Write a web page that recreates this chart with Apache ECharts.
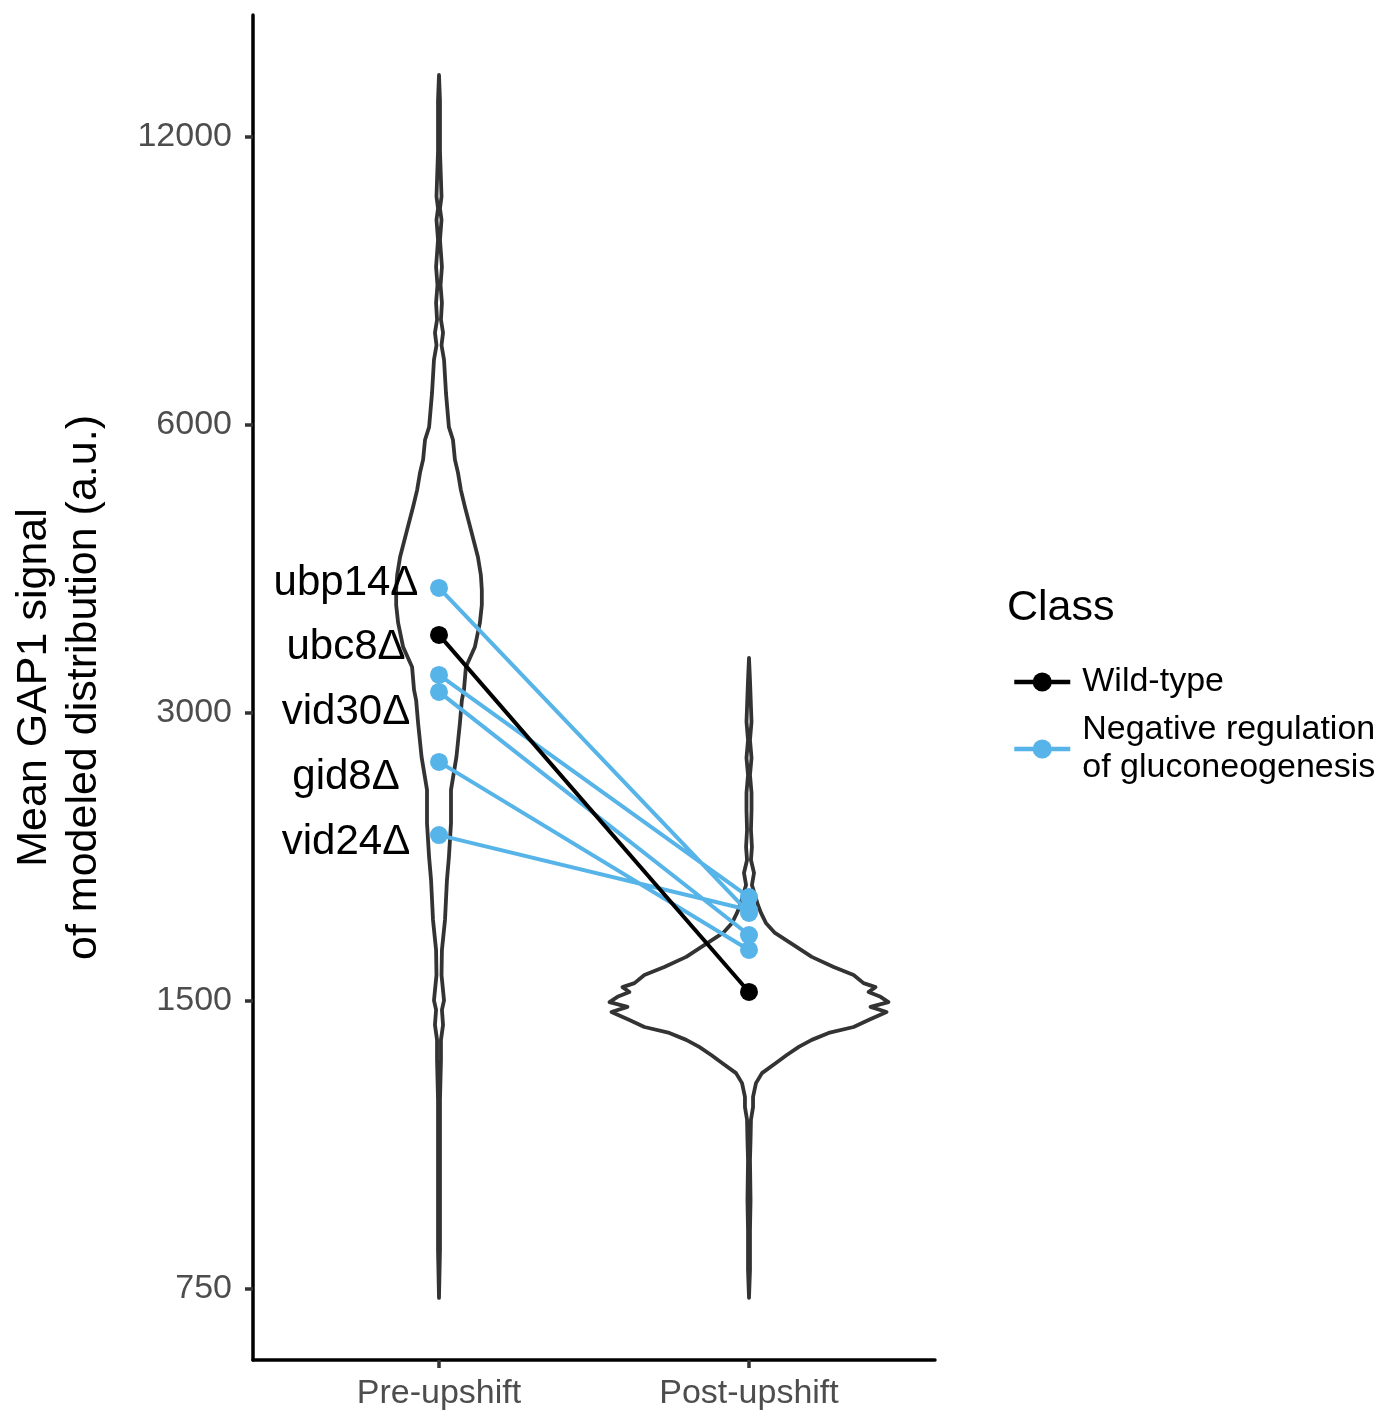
<!DOCTYPE html>
<html>
<head>
<meta charset="utf-8">
<title>GAP1 signal pre/post upshift</title>
<script src="https://cdn.jsdelivr.net/npm/echarts@6/dist/echarts.min.js"></script>
<style>
  html, body { margin: 0; padding: 0; background: #fff; }
  #chart { width: 1390px; height: 1414px; }
</style>
</head>
<body>
<div id="chart"></div>
<script>
// categories and axis ticks
const categories = ['Pre-upshift', 'Post-upshift']
const yTicks = [750, 1500, 3000, 6000, 12000]

// mutant strains (Negative regulation of gluconeogenesis)
const strains = ['ubp14Δ', 'ubc8Δ', 'vid30Δ', 'gid8Δ', 'vid24Δ']
const strainPre = [4053, 3288, 3156, 2667, 2236]
const strainPost = [1854, 1926, 1758, 1696, 1867]
// where the repelled labels ended up (a.u.)
const strainLabelAt = [4102, 3516, 3007, 2572, 2199]

// wild-type [pre, post]
const wildType = [3620, 1533]

// violin outlines: value (a.u.) and relative density (1 = widest)
const preViolinValue = [13930, 13100, 11600, 10400, 10100, 9830, 9370, 8780, 8400, 8050, 7730, 7490, 7270, 7020,
  6480, 5970, 5790, 5520, 5350, 5130, 4925, 4660, 4367, 4182, 4034, 3891, 3726, 3516, 3351, 3171, 3095, 2929,
  2699, 2493, 2302, 2121, 2007, 1823, 1696, 1597, 1502, 1468, 1416, 1366, 1301, 1182, 1048, 929, 824, 734]
const preViolinDensity = [0, 0.007, 0.007, 0.018, 0.007, 0.018, 0.007, 0.021, 0.011, 0.021, 0.014, 0.029, 0.018, 0.036,
  0.05, 0.071, 0.1, 0.114, 0.136, 0.157, 0.186, 0.229, 0.279, 0.3, 0.307, 0.307, 0.293, 0.257, 0.193, 0.179, 0.164, 0.15,
  0.125, 0.086, 0.086, 0.071, 0.057, 0.043, 0.021, 0.018, 0.036, 0.021, 0.029, 0.014, 0.014, 0.007, 0.007, 0.007, 0.007, 0]

const postViolinValue = [3425, 3248, 2936, 2811, 2692, 2584, 2475, 2375, 2264, 2173, 2106, 2041, 1983, 1936, 1890,
  1854, 1810, 1767, 1716, 1668, 1628, 1597, 1566, 1551, 1533, 1515, 1496, 1479, 1461, 1433, 1409, 1389, 1366,
  1343, 1317, 1292, 1261, 1231, 1191, 1162, 1127, 1074, 1023, 929, 864, 785, 734]
const postViolinDensity = [0, 0.007, 0.018, 0.007, 0.018, 0.007, 0.018, 0.018, 0.014, 0.021, 0.014, 0.036, 0.021, 0.043, 0.064,
  0.086, 0.121, 0.186, 0.321, 0.45, 0.607, 0.75, 0.821, 0.907, 0.857, 0.943, 1.0, 0.871, 0.986, 0.857, 0.75, 0.571, 0.45,
  0.357, 0.271, 0.193, 0.093, 0.05, 0.029, 0.029, 0.014, 0.011, 0.007, 0.011, 0.007, 0.007, 0]

const BLUE = '#56B4E9'
const FONT = '"Liberation Sans", Arial, Helvetica, sans-serif'
const violinHalfWidth = 0.45 // ggplot width 0.9
const labelX = 0.7

const violins = [
  { center: 1, values: preViolinValue, density: preViolinDensity },
  { center: 2, values: postViolinValue, density: postViolinDensity }
]

function renderViolin(params, api) {
  const v = violins[params.dataIndex]
  const left = []
  const right = []
  v.values.forEach((val, i) => {
    left.push(api.coord([v.center - v.density[i] * violinHalfWidth, Math.log2(val)]))
    right.push(api.coord([v.center + v.density[i] * violinHalfWidth, Math.log2(val)]))
  })
  return {
    type: 'polygon',
    shape: { points: left.concat(right.reverse()) },
    style: { fill: '#fff', stroke: '#333333', lineWidth: 3.8, lineJoin: 'round', lineCap: 'round' }
  }
}

// strain name labels, placed through the axes
function renderLabel(params, api) {
  const p = api.coord([api.value(0), api.value(1)])
  return {
    type: 'text',
    x: p[0],
    y: p[1],
    style: {
      text: strains[params.dataIndex],
      fill: '#000',
      font: '42px ' + FONT,
      align: 'center',
      verticalAlign: 'middle'
    }
  }
}

// mutant segments, broken with '-' between strains
const mutantData = []
strains.forEach((s, i) => {
  if (i > 0) mutantData.push('-')
  mutantData.push([1, Math.log2(strainPre[i])], [2, Math.log2(strainPost[i])])
})

const chart = echarts.init(document.getElementById('chart'))

const option = {
  backgroundColor: '#fff',
  animation: false,
  textStyle: { fontFamily: FONT },
  grid: { left: 253, right: 455, top: 15, bottom: 54, containLabel: false },
  xAxis: {
    type: 'value',
    min: 0.4,
    max: 2.6,
    splitLine: { show: false },
    axisLine: { lineStyle: { color: '#000', width: 3.5 } },
    axisTick: { customValues: [1, 2], length: 8, lineStyle: { color: '#333', width: 3.5 } },
    axisLabel: {
      customValues: [1, 2],
      formatter: v => categories[Math.round(v) - 1],
      color: '#4D4D4D',
      fontSize: 34,
      margin: 17,
      fontFamily: FONT
    }
  },
  yAxis: {
    type: 'value',
    min: 9.3042,
    max: 13.9743,
    splitLine: { show: false },
    axisLine: { show: true, lineStyle: { color: '#000', width: 3.5 } },
    axisTick: { show: true, customValues: yTicks.map(Math.log2), length: 8, lineStyle: { color: '#333', width: 3.5 } },
    axisLabel: {
      customValues: yTicks.map(Math.log2),
      formatter: v => String(Math.round(Math.pow(2, v))),
      color: '#4D4D4D',
      fontSize: 34,
      margin: 21,
      fontFamily: FONT
    },
    name: 'Mean GAP1 signal\nof modeled distribution (a.u.)',
    nameLocation: 'middle',
    nameRotate: 90,
    nameGap: 144,
    nameTextStyle: { color: '#000', fontSize: 43, lineHeight: 50, fontFamily: FONT }
  },
  legend: {
    orient: 'vertical',
    left: 1012,
    top: 663,
    padding: 0,
    itemWidth: 56,
    itemHeight: 24,
    itemGap: 10,
    data: ['Wild-type', 'Negative regulation of gluconeogenesis'],
    formatter: name => name.replace(' of ', '\nof '),
    lineStyle: { width: 4.5 },
    textStyle: { color: '#000', fontSize: 34, lineHeight: 38, fontFamily: FONT, padding: [0, 0, 0, 7] }
  },
  graphic: [{
    type: 'text',
    left: 1007,
    top: 587,
    style: { text: 'Class', fill: '#000', font: '43px ' + FONT }
  }],
  series: [
    {
      type: 'custom',
      name: 'violin',
      renderItem: renderViolin,
      data: violins.map(v => [v.center, Math.log2(v.values[0])]),
      encode: { x: 0, y: 1 },
      silent: true,
      z: 1
    },
    {
      type: 'line',
      name: 'Negative regulation of gluconeogenesis',
      data: mutantData,
      symbol: 'circle',
      symbolSize: 18,
      lineStyle: { color: BLUE, width: 4 },
      itemStyle: { color: BLUE },
      z: 2
    },
    {
      type: 'line',
      name: 'Wild-type',
      data: [[1, Math.log2(wildType[0])], [2, Math.log2(wildType[1])]],
      symbol: 'circle',
      symbolSize: 18,
      lineStyle: { color: '#000', width: 4 },
      itemStyle: { color: '#000' },
      z: 3
    },
    {
      type: 'custom',
      name: 'labels',
      renderItem: renderLabel,
      data: strains.map((s, i) => [labelX, Math.log2(strainLabelAt[i])]),
      encode: { x: 0, y: 1 },
      silent: true,
      z: 4
    }
  ]
}

chart.setOption(option)
</script>
</body>
</html>
